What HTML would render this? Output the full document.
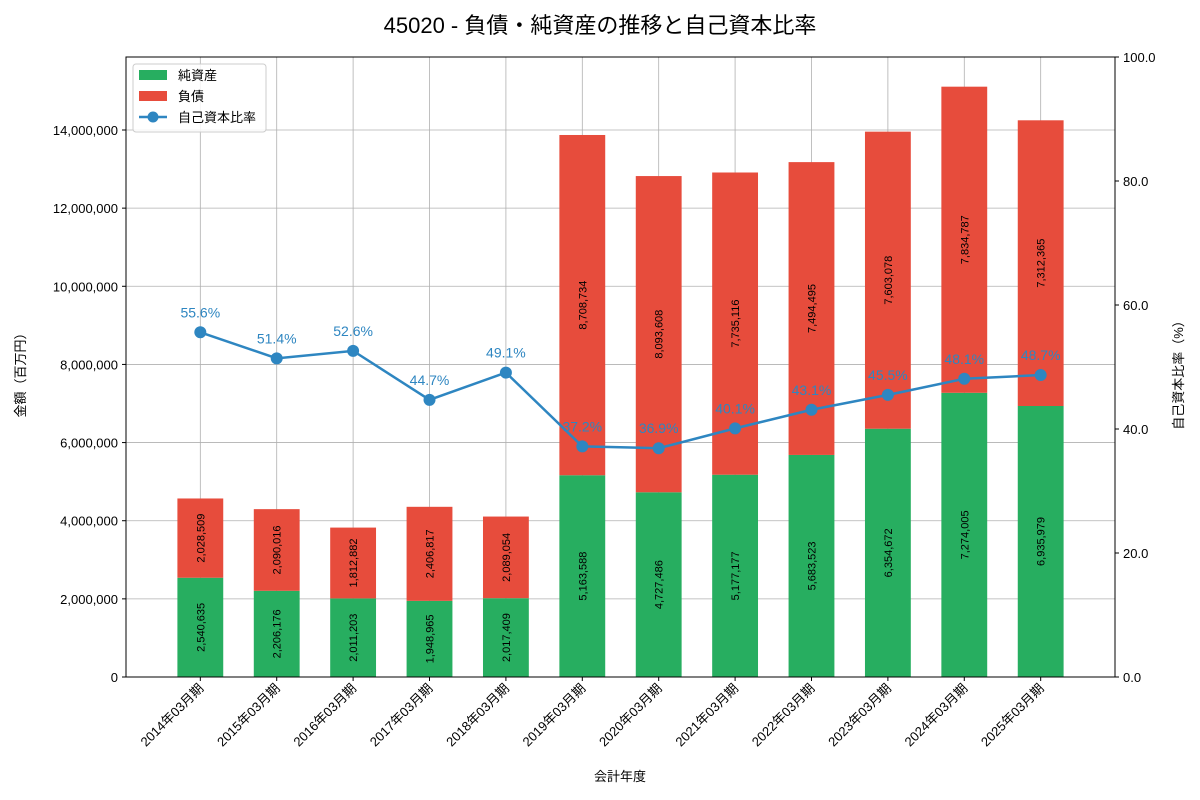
<!DOCTYPE html>
<html><head><meta charset="utf-8">
<style>
html,body{margin:0;padding:0;background:#fff;}
svg{display:block;font-family:"Liberation Sans","Noto Sans CJK JP",sans-serif;}
</style></head>
<body>
<svg id="chart" width="1200" height="800" viewBox="0 0 1200 800">
<text x="600" y="33" text-anchor="middle" font-size="22" fill="#000">45020 - 負債・純資産の推移と自己資本比率</text>
<g id="grid"></g>
<g id="bars"></g>
<g id="line"></g>
<g id="axes"></g>
<text x="0" y="0" transform="translate(25,372) rotate(-90)" text-anchor="middle" font-size="13">金額（百万円）</text>
<text x="0" y="0" transform="translate(1183,372) rotate(-90)" text-anchor="middle" font-size="13">自己資本比率（%）</text>
<text x="620" y="781" text-anchor="middle" font-size="13">会計年度</text>
<g>
<rect x="133" y="64" width="133" height="68" fill="#fff" fill-opacity="0.85" stroke="#ccc" rx="3"/>
<g><rect x="139" y="70" width="28" height="10" fill="#27ae60"/><text x="178" y="80" font-size="13">純資産</text></g>
<g><rect x="139" y="91" width="28" height="10" fill="#e74c3c"/><text x="178" y="101" font-size="13">負債</text></g>
<g><line x1="139" y1="117" x2="167" y2="117" stroke="#2e86c1" stroke-width="2.5"/><circle cx="153" cy="117" r="5.5" fill="#2e86c1"/><text x="178" y="122" font-size="13">自己資本比率</text></g>
</g>
</svg>
<script>
const categories=["2014年03月期","2015年03月期","2016年03月期","2017年03月期","2018年03月期","2019年03月期","2020年03月期","2021年03月期","2022年03月期","2023年03月期","2024年03月期","2025年03月期"];
const equity=[2540635,2206176,2011203,1948965,2017409,5163588,4727486,5177177,5683523,6354672,7274005,6935979];
const liabilities=[2028509,2090016,1812882,2406817,2089054,8708734,8093608,7735116,7494495,7603078,7834787,7312365];
const ratio=[55.6,51.4,52.6,44.7,49.1,37.2,36.9,40.1,43.1,45.5,48.1,48.7];
const yTicks=[0,2000000,4000000,6000000,8000000,10000000,12000000,14000000];
const y2Ticks=[0,20,40,60,80,100];

const NS="http://www.w3.org/2000/svg";
const L=126,R=1115,T=57,B=677;
const pxPer2M=(677-130)/7;
const yMax=(B-T)/pxPer2M*2000000;
const n=categories.length;
const xmin=-0.3-0.058*(n-1+0.6), xmax=(n-1)+0.3+0.058*(n-1+0.6);
function x(i){return L+(i-xmin)/(xmax-xmin)*(R-L);}
function y(v){return B-v/yMax*(B-T);}
function y2(v){return B-v/100*(B-T);}
const bw=0.6*(R-L)/(xmax-xmin);
function mk(tag,attrs,parent,text){const e=document.createElementNS(NS,tag);for(const k in attrs)e.setAttribute(k,attrs[k]);if(text!==undefined)e.textContent=text;parent.appendChild(e);return e;}
const fmt=v=>v.toLocaleString("en-US");
const grid=document.getElementById("grid"),bars=document.getElementById("bars"),line=document.getElementById("line"),axes=document.getElementById("axes");

yTicks.forEach(t=>{
  const g=mk("line",{x1:L,x2:R,y1:y(t),y2:y(t),stroke:"#b0b0b0","stroke-width":0.8},grid);
  
  
  mk("line",{x1:L-4,x2:L,y1:y(t),y2:y(t),stroke:"#000"},axes);
  const tl=mk("text",{x:L-8,y:y(t)+5,"text-anchor":"end","font-size":13},axes,fmt(t));
  
  
});
y2Ticks.forEach(t=>{
  mk("line",{x1:R,x2:R+4,y1:y2(t),y2:y2(t),stroke:"#000"},axes);
  const tl=mk("text",{x:R+8,y:y2(t)+5,"font-size":13},axes,t.toFixed(1));
  
  
});
categories.forEach((c,i)=>{
  const cx=x(i);
  const g=mk("line",{x1:cx,x2:cx,y1:T,y2:B,stroke:"#b0b0b0","stroke-width":0.8},grid);
  
  
  const e=mk("rect",{x:cx-bw/2,y:y(equity[i]),width:bw,height:B-y(equity[i]),fill:"#27ae60"},bars);
  
  
  const top=equity[i]+liabilities[i];
  const l=mk("rect",{x:cx-bw/2,y:y(top),width:bw,height:y(equity[i])-y(top),fill:"#e74c3c"},bars);
  
  
  const ey=(y(0)+y(equity[i]))/2, ly=(y(equity[i])+y(top))/2;
  const t1=mk("text",{transform:`translate(${cx+4},${ey}) rotate(-90)`,"text-anchor":"middle","font-size":11},bars,fmt(equity[i]));
  
  
  const t2=mk("text",{transform:`translate(${cx+4},${ly}) rotate(-90)`,"text-anchor":"middle","font-size":11},bars,fmt(liabilities[i]));
  
  
  mk("line",{x1:cx,x2:cx,y1:B,y2:B+4,stroke:"#000"},axes);
  const xl=mk("text",{transform:`translate(${cx+4},${B+12}) rotate(-45)`,"text-anchor":"end","font-size":13},axes,c);
  
  
});
const pts=ratio.map((r,i)=>x(i)+","+y2(r)).join(" ");
mk("polyline",{points:pts,fill:"none",stroke:"#2e86c1","stroke-width":2.5},line);
ratio.forEach((r,i)=>{
  const c=mk("circle",{cx:x(i),cy:y2(r),r:6,fill:"#2e86c1"},line);
  
  
  const t=mk("text",{x:x(i),y:y2(r)-15,"text-anchor":"middle","font-size":14,fill:"#2e86c1"},line,r.toFixed(1)+"%");
  
  
});
mk("rect",{x:L,y:T,width:R-L,height:B-T,fill:"none",stroke:"#000","stroke-width":1},axes);
</script>
</body></html>
